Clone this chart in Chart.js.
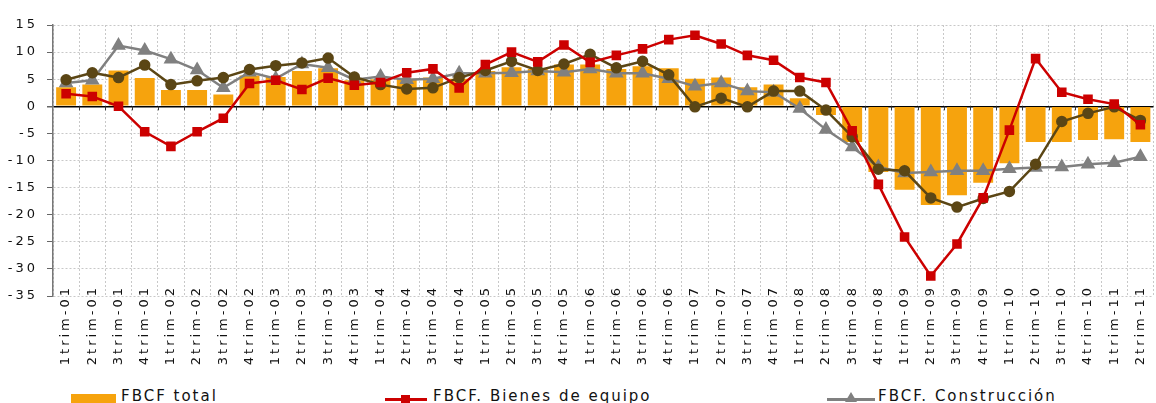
<!DOCTYPE html>
<html>
<head>
<meta charset="utf-8">
<script src="https://cdn.jsdelivr.net/npm/chart.js@4/dist/chart.umd.min.js"></script>
<style>
  body { margin: 0; overflow: hidden; background: #fff; font-family: "DejaVu Sans", sans-serif; }
  #wrap { position: relative; width: 1162px; height: 403px; }
  #box { position: absolute; left: 0; top: 0; width: 1162px; height: 376px; }
  .leg { position: absolute; font-size: 15px; line-height: 15px; letter-spacing: 2px; color: #111; white-space: nowrap; }
  .mk { position: absolute; }
</style>
</head>
<body>
<div id="wrap">
  <div id="box"><canvas id="myChart"></canvas></div>
  <div class="mk" style="left:71px;top:394px;width:45px;height:12px;background:#f6a30d"></div>
  <div class="leg" style="left:121px;top:389px">FBCF total</div>
  <div class="mk" style="left:385px;top:398px;width:42px;height:3px;background:#cc0000"></div>
  <div class="mk" style="left:401px;top:395px;width:9px;height:9px;background:#cc0000"></div>
  <div class="leg" style="left:433px;top:389px">FBCF. Bienes de equipo</div>
  <div class="mk" style="left:827px;top:398px;width:48px;height:3px;background:#808080"></div>
  <div class="mk" style="left:845px;top:392px;width:0;height:0;border-left:6px solid transparent;border-right:6px solid transparent;border-bottom:10px solid #808080"></div>
  <div class="leg" style="left:878px;top:389px">FBCF. Construcción</div>
  <div class="mk" style="left:71px;top:428px;width:45px;height:3px;background:#5b4615"></div>
  <div class="leg" style="left:121px;top:420px">FBCF. Otros productos</div>
</div>
<script>
const labels = [
    '1trim-01', '2trim-01', '3trim-01', '4trim-01',
    '1trim-02', '2trim-02', '3trim-02', '4trim-02',
    '1trim-03', '2trim-03', '3trim-03', '4trim-03',
    '1trim-04', '2trim-04', '3trim-04', '4trim-04',
    '1trim-05', '2trim-05', '3trim-05', '4trim-05',
    '1trim-06', '2trim-06', '3trim-06', '4trim-06',
    '1trim-07', '2trim-07', '3trim-07', '4trim-07',
    '1trim-08', '2trim-08', '3trim-08', '4trim-08',
    '1trim-09', '2trim-09', '3trim-09', '4trim-09',
    '1trim-10', '2trim-10', '3trim-10', '4trim-10',
    '1trim-11', '2trim-11',
];
const fbcfTotal = [3.5, 4.0, 6.6, 5.2, 3.0, 3.0, 2.2, 5.7, 5.4, 6.5, 7.0, 4.8, 5.0,
    5.1, 5.3, 5.1, 6.5, 7.2, 6.9, 7.7, 7.7, 6.9, 7.4, 7.0, 5.1, 5.3, 3.5, 4.0,
    1.5, -1.6, -6.6, -12.1, -15.4, -18.2, -16.4, -14.1, -10.5, -6.6, -6.6, -6.2, -6.1, -6.6];
const bienesEquipo = [2.3, 1.8, 0.0, -4.7, -7.4, -4.7, -2.2, 4.2, 4.8, 3.1, 5.2, 3.9, 4.4,
    6.2, 6.9, 3.4, 7.7, 10.0, 8.2, 11.3, 8.1, 9.4, 10.6, 12.3, 13.1, 11.5, 9.4, 8.5,
    5.3, 4.4, -4.5, -14.4, -24.1, -31.3, -25.4, -16.9, -4.4, 8.8, 2.6, 1.3, 0.4, -3.4];
const construccion = [4.3, 4.8, 11.2, 10.3, 8.7, 6.7, 3.4, 6.3, 5.1, 7.8, 7.1, 4.9, 5.5,
    4.9, 5.1, 6.1, 6.1, 6.2, 6.5, 6.3, 6.9, 6.1, 6.1, 5.1, 3.7, 4.3, 2.8, 2.6,
    -0.4, -4.3, -7.5, -11.2, -12.3, -12.1, -11.9, -11.9, -11.5, -11.3, -11.2, -10.7, -10.4, -9.3];
const otros = [4.9, 6.2, 5.3, 7.6, 4.0, 4.7, 5.3, 6.8, 7.5, 8.0, 8.9, 5.4, 4.0,
    3.2, 3.4, 5.3, 6.6, 8.3, 6.6, 7.8, 9.6, 7.1, 8.3, 5.8, -0.1, 1.5, -0.1, 2.8,
    2.8, -0.7, -5.6, -11.6, -11.9, -16.9, -18.6, -17.0, -15.7, -10.7, -2.8, -1.3, -0.1, -2.6];

// spaced out letters like the original
const spacing = {
    id: 'spacing',
    beforeUpdate(chart) { chart.ctx.letterSpacing = '3px'; },
    beforeDraw(chart) { chart.ctx.letterSpacing = '3px'; }
};

// little tick marks hanging under the zero line
const zeroTicks = {
    id: 'zeroTicks',
    beforeDatasetsDraw(chart) {
        const x = chart.scales.x, y = chart.scales.y, ctx = chart.ctx;
        const y0 = y.getPixelForValue(0);
        const half = (x.getPixelForValue(1) - x.getPixelForValue(0)) / 2;
        ctx.save();
        ctx.strokeStyle = '#333';
        ctx.lineWidth = 1;
        for (let i = 1; i < labels.length; i++) {
            const px = Math.round(x.getPixelForValue(i) - half) + 0.5;
            ctx.beginPath();
            ctx.moveTo(px, y0);
            ctx.lineTo(px, y0 + 4);
            ctx.stroke();
        }
        ctx.restore();
    }
};

const data = {
    labels: labels,
    datasets: [{
        type: 'line',
        label: 'FBCF. Bienes de equipo',
        data: bienesEquipo,
        borderColor: '#cc0000',
        backgroundColor: '#cc0000',
        borderWidth: 2.5,
        pointStyle: 'rect',
        pointRadius: 5,
        tension: 0,
        order: 1
    }, {
        type: 'line',
        label: 'FBCF. Otros productos',
        data: otros,
        borderColor: '#5b4615',
        backgroundColor: '#5b4615',
        borderWidth: 2.5,
        pointStyle: 'circle',
        pointRadius: 4.5,
        tension: 0,
        order: 2
    }, {
        type: 'line',
        label: 'FBCF. Construcción',
        data: construccion,
        borderColor: '#808080',
        backgroundColor: '#808080',
        borderWidth: 2.5,
        pointStyle: 'triangle',
        pointRadius: 6,
        tension: 0,
        order: 3
    }, {
        type: 'bar',
        label: 'FBCF total',
        data: fbcfTotal,
        backgroundColor: '#f6a30d',
        barPercentage: 0.76,
        categoryPercentage: 1,
        order: 4
    }]
};

const config = {
    type: 'bar',
    data: data,
    options: {
        responsive: true,
        maintainAspectRatio: false,
        animation: false,
        layout: { padding: { top: 25, right: 2, left: 0, bottom: 0 } },
        plugins: {
            legend: { display: false },
            tooltip: { enabled: false }
        },
        scales: {
            x: {
                grid: { color: '#c8c8c8', drawTicks: false, offset: true },
                border: { display: false, dash: [2, 2] },
                ticks: {
                    minRotation: 90, maxRotation: 90, autoSkip: false,
                    padding: 0,
                    color: '#111',
                    font: { family: 'DejaVu Sans', size: 13 }
                },
                afterFit: s => {
                    s.height = 80;
                    // let the labels run up into the plot like the original
                    s._computeLabelArea = () => null;
                    if (!s._shifted) {
                        s._shifted = true;
                        const orig = s._computeLabelItems;
                        s._computeLabelItems = function (area) {
                            const items = orig.call(this, area);
                            items.forEach(it => { it.options.translation[1] -= 11; });
                            return items;
                        };
                    }
                }
            },
            y: {
                min: -35, max: 15,
                ticks: {
                    stepSize: 5,
                    padding: 9,
                    color: '#111',
                    font: { family: 'DejaVu Sans', size: 13 }
                },
                grid: {
                    color: c => (c.tick && c.tick.value === 0) ? '#000' : '#c8c8c8',
                    lineWidth: c => (c.tick && c.tick.value === 0) ? 1.5 : 1,
                    tickColor: '#666',
                    tickLength: 6
                },
                border: {
                    color: '#777', width: 1.5,
                    dash: c => (c.tick && c.tick.value === 0) ? [] : [2, 2]
                },
                afterFit: s => { s.width = 53; }
            }
        }
    },
    plugins: [spacing, zeroTicks]
};

const myChart = new Chart(
    document.getElementById('myChart'),
    config
);
</script>
</body>
</html>
